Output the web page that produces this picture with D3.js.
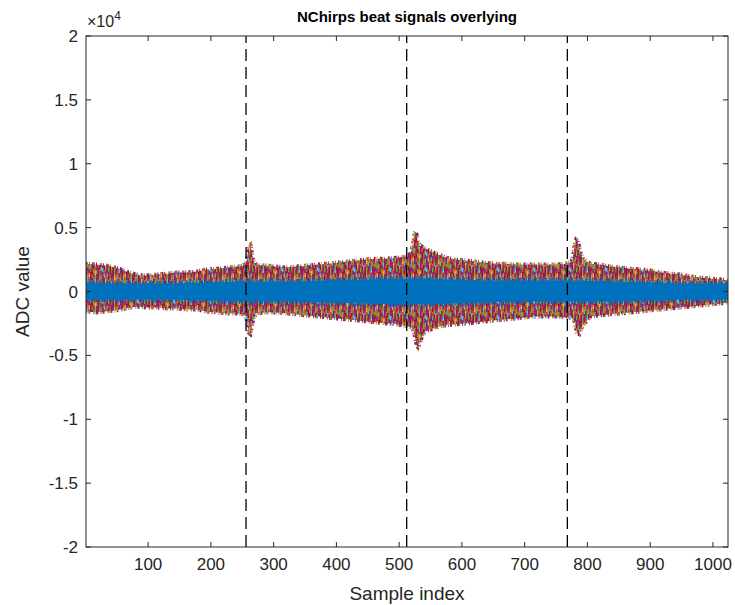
<!DOCTYPE html>
<html><head><meta charset="utf-8">
<script src="https://cdn.jsdelivr.net/npm/d3@7"></script>
<style>body{margin:0;background:#fff}svg{display:block}</style>
</head><body><svg id="c" width="735" height="605"></svg>
<script>
// ---- data (ADC units) ----
const envSamples = [1,17,33,49,65,81,97,113,129,145,161,177,193,209,225,241,252,257,259,261,263,265,268,272,288,304,320,336,352,368,384,400,416,432,448,464,480,496,512,518,522,524,526,528,530,533,537,543,559,575,591,607,622,638,654,670,686,702,718,734,750,766,772,776,778,780,782,784,787,792,805,821,837,853,869,885,901,917,933,949,965,981,997,1013,1024];
const envTop = [2180,2110,2030,1870,1560,1330,1250,1330,1400,1480,1480,1560,1720,1790,1870,1950,2030,2340,2960,3590,3670,3120,2340,2110,2030,1950,1870,1950,2030,2110,2180,2260,2340,2420,2500,2570,2570,2650,2730,2960,3740,4520,4680,4450,3900,3590,3510,3350,2960,2650,2500,2420,2340,2260,2180,2180,2110,2110,2110,2110,2110,2180,2260,2500,3120,3740,4060,3980,3510,2570,2180,2110,1950,1870,1790,1720,1640,1480,1400,1330,1170,1090,1010,940,860];
const envBottom = [-1560,-1640,-1560,-1480,-1330,-1170,-1250,-1250,-1330,-1330,-1400,-1400,-1560,-1640,-1720,-1720,-1790,-2110,-2730,-3280,-3350,-2810,-2110,-1720,-1640,-1640,-1720,-1790,-1870,-1950,-2030,-2110,-2180,-2260,-2340,-2420,-2500,-2570,-2730,-2810,-2960,-3280,-3740,-4210,-4370,-4060,-3430,-3120,-2810,-2650,-2570,-2500,-2420,-2340,-2260,-2180,-2110,-2030,-1950,-1950,-1950,-2030,-2030,-2110,-2180,-2500,-2960,-3280,-3350,-2730,-1950,-1870,-1790,-1720,-1640,-1560,-1480,-1400,-1330,-1250,-1170,-1090,-1010,-940,-860];
const coreSamples = [1,65,129,193,257,321,385,449,513,577,641,705,769,833,897,961,1024];
const coreTop = [700,620,620,700,780,780,860,940,1010,940,860,860,860,780,700,620,620];
const coreBottom = [-620,-620,-620,-700,-780,-780,-860,-940,-1010,-940,-860,-780,-780,-780,-700,-620,-620];
const chirpBoundaries = [256,512,768];
const xTicks = [100,200,300,400,500,600,700,800,900,1000];
const yTicks = [-2,-1.5,-1,-0.5,0,0.5,1,1.5,2];
const lineColors = ["#0072BD","#D95319","#EDB120","#7E2F8E","#77AC30","#4DBEEE","#A2142F"];

// ---- layout ----
const L=86,R=728,T=36,B=547;
const svg=d3.select("#c");
const x=d3.scaleLinear().domain([1,1024]).range([L,R]);
const y=d3.scaleLinear().domain([-2e4,2e4]).range([B,T]);
const axisCol="#262626";
const font="'Liberation Sans', Arial, sans-serif";

// speckle texture standing in for the many overlapping coloured traces (style only)
const defs=svg.append("defs");
const tileRows=["316341431652613436143514","643125614341361563416321","165613346134436131653643","431646153613164246135136"];
const colShift=[0,2,1,3,0,2,3,1,2,0,3,1,0,2,1,3,2,0,1,3,0,2,3,1];
const cw=1.5,ch=4,nc=24,nr=4,tw=cw*nc,th=ch*nr;
const pat=defs.append("pattern").attr("id","speck").attr("patternUnits","userSpaceOnUse")
  .attr("width",tw).attr("height",th);
pat.append("rect").attr("width",tw).attr("height",th).attr("fill","#7E2F8E");
tileRows.forEach((row,r)=>{
  row.split("").forEach((k,c)=>{
    const yy=r*ch+colShift[c];
    [yy,yy-th].forEach(v=>pat.append("rect").attr("x",c*cw).attr("y",v).attr("width",cw).attr("height",ch)
      .attr("fill",lineColors[+k]));
  });
});

const clip=defs.append("clipPath").attr("id","plotclip");
clip.append("rect").attr("x",L).attr("y",T).attr("width",R-L).attr("height",B-T);

const g=svg.append("g").attr("clip-path","url(#plotclip)");
const envArea=d3.area().x((d,i)=>x(envSamples[i])).y0((d,i)=>y(envBottom[i])).y1((d,i)=>y(envTop[i])).curve(d3.curveLinear);
g.append("path").datum(envSamples).attr("d",envArea).attr("fill","url(#speck)")
  .attr("stroke","url(#speck)").attr("stroke-width",4).attr("stroke-dasharray","2,1,1,2,3,1,1,3");
const coreArea=d3.area().x((d,i)=>x(coreSamples[i])).y0((d,i)=>y(coreBottom[i])).y1((d,i)=>y(coreTop[i])).curve(d3.curveMonotoneX);
g.append("path").datum(coreSamples).attr("d",coreArea).attr("fill",lineColors[0])
  .attr("stroke",lineColors[0]).attr("stroke-width",5).attr("stroke-dasharray","1,2,2,1,1,3");

// chirp boundary lines
g.selectAll("line.b").data(chirpBoundaries).join("line").attr("class","b")
  .attr("x1",d=>x(d)).attr("x2",d=>x(d)).attr("y1",y(-2e4)).attr("y2",y(2e4))
  .attr("stroke","#000").attr("stroke-width",1.3).attr("stroke-dasharray","12,6");

// axes box
svg.append("rect").attr("x",L).attr("y",T).attr("width",R-L).attr("height",B-T)
  .attr("fill","none").attr("stroke",axisCol).attr("stroke-width",1);
const tl=5;
svg.selectAll("line.xt").data(xTicks).join("line").attr("class","xt")
  .attr("x1",d=>x(d)).attr("x2",d=>x(d)).attr("y1",B).attr("y2",B-tl).attr("stroke",axisCol);
svg.selectAll("line.xt2").data(xTicks).join("line").attr("class","xt2")
  .attr("x1",d=>x(d)).attr("x2",d=>x(d)).attr("y1",T).attr("y2",T+tl).attr("stroke",axisCol);
svg.selectAll("line.yt").data(yTicks).join("line").attr("class","yt")
  .attr("x1",L).attr("x2",L+tl).attr("y1",d=>y(d*1e4)).attr("y2",d=>y(d*1e4)).attr("stroke",axisCol);
svg.selectAll("line.yt2").data(yTicks).join("line").attr("class","yt2")
  .attr("x1",R).attr("x2",R-tl).attr("y1",d=>y(d*1e4)).attr("y2",d=>y(d*1e4)).attr("stroke",axisCol);

svg.selectAll("text.xl").data(xTicks).join("text").attr("class","xl")
  .attr("x",d=>x(d)).attr("y",B+23).attr("text-anchor","middle")
  .attr("font-family",font).attr("font-size",17).attr("fill",axisCol).text(d=>d);
svg.selectAll("text.yl").data(yTicks).join("text").attr("class","yl")
  .attr("x",L-8).attr("y",d=>y(d*1e4)+6).attr("text-anchor","end")
  .attr("font-family",font).attr("font-size",17).attr("fill",axisCol).text(d=>d);

// exponent
const ex=svg.append("text").attr("x",L+1).attr("y",T-9).attr("font-family",font).attr("font-size",16).attr("fill",axisCol);
ex.append("tspan").text("\u00d710");
ex.append("tspan").attr("dy",-7).attr("font-size",12).text("4");

svg.append("text").attr("x",(L+R)/2).attr("y",22).attr("text-anchor","middle")
  .attr("font-family",font).attr("font-size",15).attr("font-weight","bold").attr("fill","#000")
  .text("NChirps beat signals overlying");
svg.append("text").attr("x",(L+R)/2).attr("y",600).attr("text-anchor","middle")
  .attr("font-family",font).attr("font-size",19).attr("fill",axisCol).text("Sample index");
svg.append("text").attr("transform",`translate(29,${(T+B)/2}) rotate(-90)`).attr("text-anchor","middle")
  .attr("font-family",font).attr("font-size",19).attr("fill",axisCol).text("ADC value");
</script></body></html>
